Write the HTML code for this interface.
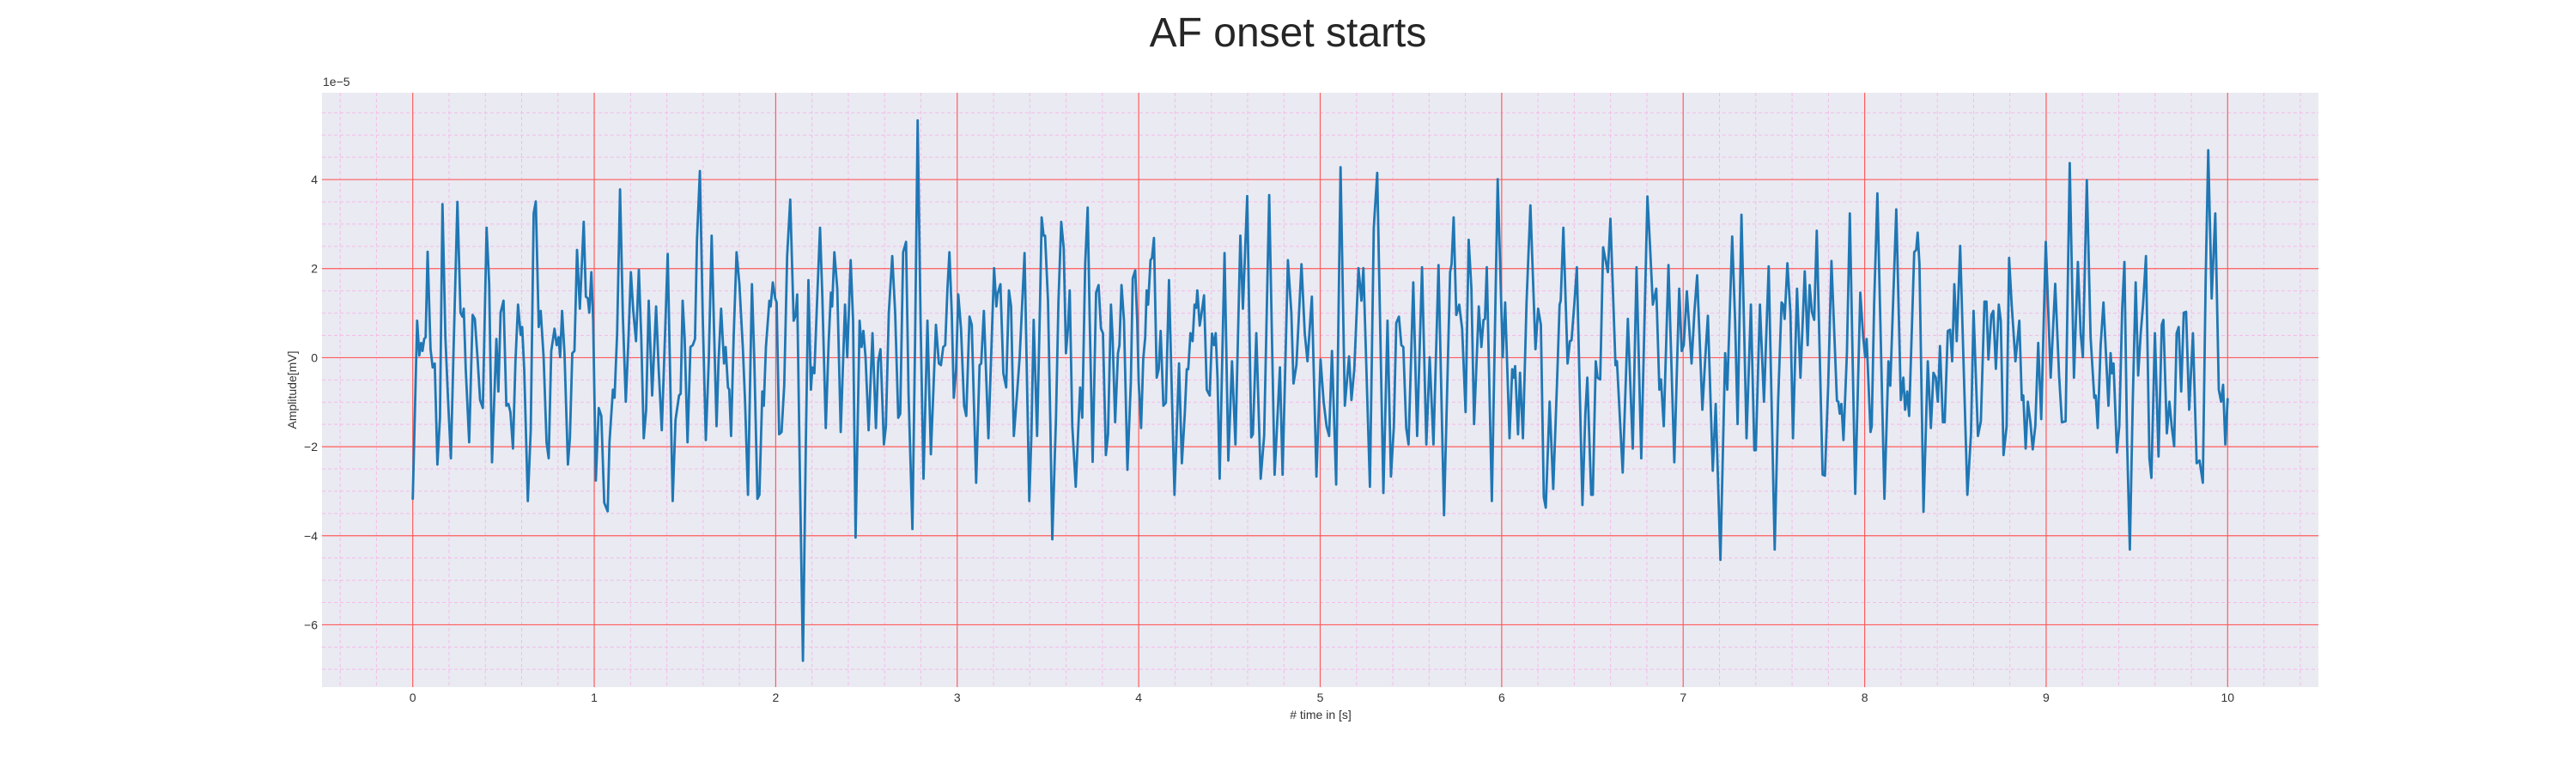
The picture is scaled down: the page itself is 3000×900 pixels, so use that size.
<!DOCTYPE html>
<html><head><meta charset="utf-8"><style>
html,body{margin:0;padding:0;background:#fff;}
svg{display:block;font-family:"Liberation Sans",Arial,sans-serif;}
</style></head><body>
<svg id="chart" width="3000" height="900" viewBox="0 0 3000 900" xmlns="http://www.w3.org/2000/svg">
<text x="1500" y="54" font-size="48" fill="#262626" text-anchor="middle">AF onset starts</text>
<rect x="375" y="108" width="2325" height="692" fill="#EAEAF2"/>
<g id="grid"></g>
<g id="ticks"></g>
<g id="series"></g>
<text x="376" y="100" font-size="14" fill="#333">1e−5</text>
<text x="1538" y="837" font-size="14" fill="#333" text-anchor="middle"># time in [s]</text>
<text x="0" y="0" font-size="14" fill="#333" text-anchor="middle" transform="translate(345,454) rotate(-90)">Amplitude[mV]</text>
</svg>
<script>
const xTicks=[0,1,2,3,4,5,6,7,8,9,10];
const yTicks=[-6,-4,-2,0,2,4];
const yTickLabels=["−6","−4","−2","0","2","4"];
const times=[0.000,0.024,0.036,0.046,0.054,0.063,0.071,0.082,0.098,0.110,0.121,0.136,0.150,0.164,0.180,0.194,0.210,0.224,0.246,0.263,0.274,0.281,0.292,0.311,0.330,0.342,0.358,0.371,0.386,0.407,0.421,0.437,0.461,0.472,0.484,0.500,0.516,0.527,0.538,0.552,0.566,0.580,0.595,0.603,0.614,0.634,0.650,0.666,0.678,0.694,0.705,0.721,0.737,0.749,0.763,0.781,0.793,0.804,0.812,0.823,0.836,0.855,0.866,0.879,0.891,0.905,0.921,0.942,0.954,0.965,0.973,0.984,0.994,1.009,1.025,1.039,1.055,1.074,1.084,1.103,1.112,1.126,1.142,1.158,1.174,1.188,1.202,1.215,1.230,1.246,1.259,1.273,1.286,1.300,1.319,1.341,1.355,1.372,1.383,1.405,
1.432,1.448,1.467,1.476,1.487,1.498,1.514,1.530,1.543,1.555,1.566,1.582,1.598,1.615,1.631,1.647,1.661,1.674,1.685,1.699,1.715,1.724,1.737,1.744,1.754,1.768,1.784,1.800,1.819,1.831,1.847,1.869,1.882,1.899,1.910,1.926,1.934,1.946,1.965,1.972,1.984,1.997,2.005,2.019,2.032,2.047,2.063,2.080,2.099,2.110,2.118,2.134,2.150,2.166,2.180,2.194,2.202,2.213,2.227,2.244,2.257,2.276,2.292,2.304,2.311,2.323,2.339,2.358,2.382,2.394,2.413,2.426,2.440,2.462,2.473,2.483,2.495,2.512,2.533,2.552,2.565,2.577,2.596,2.607,2.623,2.642,2.658,2.675,2.686,2.702,2.718,2.732,2.753,2.768,2.782,2.798,2.814,2.836,2.855,2.883,2.899,2.910,2.923,2.934,2.946,2.957,2.970,2.981,2.994,3.006,3.021,3.038,3.050,3.068,3.080,3.104,3.123,3.132,3.147,3.172,3.203,3.216,3.222,3.238,3.254,3.270,3.285,3.297,3.312,3.328,3.344,
3.371,3.397,3.409,3.421,3.440,3.456,3.465,3.476,3.484,3.500,3.513,3.524,3.544,3.558,3.573,3.587,3.599,3.610,3.620,3.634,3.653,3.677,3.689,3.705,3.719,3.730,3.746,3.765,3.779,3.792,3.803,3.819,3.831,3.847,3.856,3.870,3.886,3.894,3.905,3.919,3.938,3.957,3.967,3.981,3.992,4.000,4.013,4.025,4.036,4.044,4.052,4.065,4.073,4.084,4.099,4.110,4.121,4.136,4.150,4.167,4.181,4.197,4.222,4.238,4.254,4.265,4.273,4.285,4.297,4.308,4.317,4.323,4.336,4.345,4.360,4.375,4.391,4.404,4.415,4.424,4.434,4.446,4.473,4.494,4.514,4.533,4.560,4.574,4.598,4.620,4.629,4.648,4.672,4.691,4.719,4.749,4.778,4.793,4.822,4.841,4.853,4.869,4.897,4.915,4.930,4.954,4.979,5.002,5.019,5.035,5.049,5.065,5.088,5.112,5.136,5.159,5.172,5.188,5.211,5.227,5.238,5.274,5.295,
5.314,5.348,5.371,5.390,5.406,5.419,5.434,5.447,5.458,5.474,5.487,5.513,5.534,5.561,5.585,5.603,5.624,5.652,5.682,5.716,5.724,5.735,5.750,5.766,5.782,5.801,5.818,5.833,5.848,5.874,5.888,5.900,5.908,5.918,5.946,5.978,6.006,6.019,6.043,6.058,6.066,6.074,6.090,6.101,6.117,6.137,6.158,6.186,6.201,6.216,6.232,6.243,6.264,6.284,6.306,6.319,6.325,6.340,6.363,6.376,6.385,6.400,6.414,6.445,6.461,6.472,6.493,6.502,6.518,6.528,6.543,6.559,6.585,6.599,6.627,6.635,6.667,6.695,6.722,6.743,6.769,6.803,6.817,6.833,6.852,6.869,6.878,6.893,6.919,6.951,6.978,6.992,7.003,7.020,7.046,7.062,7.077,7.106,7.122,7.136,7.163,7.179,7.205,7.231,
7.243,7.270,7.286,7.300,7.321,7.336,7.349,7.373,7.392,7.400,7.423,7.445,7.471,7.504,7.523,7.542,7.551,7.559,7.574,7.591,7.605,7.627,7.646,7.670,7.686,7.697,7.709,7.722,7.736,7.752,7.768,7.781,7.799,7.817,7.847,7.855,7.863,7.872,7.883,7.902,7.918,7.948,7.976,7.992,8.003,8.011,8.032,8.039,8.052,8.070,8.109,8.131,8.141,8.174,8.199,8.213,8.223,8.234,8.245,8.273,8.284,8.292,8.302,8.324,8.348,8.365,8.379,8.392,8.403,8.415,8.431,8.441,8.458,8.471,8.482,8.494,8.507,8.526,8.566,8.586,8.600,8.624,8.640,8.660,8.671,8.682,8.698,8.709,8.723,8.739,8.750,8.765,8.782,8.796,8.810,8.831,8.852,8.866,8.874,8.887,8.899,8.913,8.926,8.940,8.956,8.973,8.998,9.025,9.050,9.071,9.087,9.107,9.130,9.153,9.175,
9.190,9.202,9.224,9.245,9.265,9.273,9.284,9.300,9.316,9.343,9.355,9.363,9.371,9.390,9.403,9.419,9.431,9.446,9.461,9.477,9.493,9.507,9.521,9.534,9.550,9.569,9.580,9.599,9.619,9.637,9.646,9.665,9.679,9.692,9.705,9.719,9.730,9.744,9.758,9.771,9.788,9.809,9.829,9.845,9.863,9.879,9.893,9.912,9.932,9.951,9.964,9.975,9.987,10.000];
const amps=[-3.17,0.83,0.05,0.33,0.15,0.42,0.46,2.38,0.19,-0.22,-0.13,-2.40,-1.35,3.45,0.46,-0.90,-2.26,0.01,3.50,1.01,0.92,1.10,-0.26,-1.90,0.96,0.87,-0.08,-0.95,-1.13,2.92,1.65,-2.35,0.42,-0.76,1.01,1.28,-1.08,-1.04,-1.22,-2.04,-0.08,1.19,0.51,0.69,-0.26,-3.22,-1.63,3.24,3.51,0.69,1.05,0.01,-1.90,-2.26,0.15,0.65,0.28,0.46,0.01,1.05,0.10,-2.40,-1.81,0.10,0.15,2.42,1.10,3.05,1.37,1.33,1.01,1.92,0.83,-2.76,-1.13,-1.31,-3.26,-3.45,-1.90,-0.72,-0.90,0.55,3.78,0.92,-0.99,0.37,1.92,1.05,0.37,1.97,0.46,-1.81,-1.17,1.28,-0.85,1.15,-0.26,-1.63,-0.35,2.33,
-3.22,-1.40,-0.85,-0.81,1.28,0.46,-1.90,0.24,0.28,0.42,2.65,4.19,0.92,-1.85,-0.08,2.74,0.46,-1.54,-0.08,1.10,-0.13,0.24,-0.67,-0.72,-1.76,0.46,2.37,1.65,0.19,-0.99,-3.08,1.65,-0.08,-3.17,-3.08,-0.76,-1.08,0.24,1.28,1.15,1.69,1.33,1.24,-1.72,-1.67,-0.63,2.28,3.55,0.83,0.96,1.42,-2.81,-6.81,-1.90,1.74,-0.72,-0.22,-0.35,1.19,2.92,1.37,-1.58,0.37,1.46,1.15,2.37,1.55,-1.67,1.19,0.01,2.19,0.83,-4.04,0.83,0.24,0.60,0.01,-1.63,0.55,-1.58,-0.08,0.19,-1.95,-1.54,1.01,2.28,1.01,-1.35,-1.26,2.37,2.60,-0.81,-3.85,0.37,5.33,0.83,-2.72,0.83,-2.17,0.74,-0.13,-0.17,0.24,0.28,1.55,2.37,1.01,-0.90,-0.26,1.42,0.65,-1.08,-1.31,0.92,0.74,-2.81,-0.17,-0.13,1.05,-1.81,2.01,1.15,1.42,1.65,-0.35,-0.67,1.51,1.15,-1.76,-0.90,0.01,
2.35,-3.22,-1.72,0.85,-1.76,1.19,3.15,2.74,2.74,1.28,-1.45,-4.08,-1.35,1.28,3.05,2.46,0.10,0.65,1.51,-1.54,-2.90,-0.67,-1.35,2.10,3.37,0.83,-2.34,1.46,1.63,0.65,0.55,-2.19,-1.72,1.19,0.46,-1.45,0.10,0.28,1.63,0.83,-2.52,-0.54,1.78,1.96,0.83,-0.54,-1.58,-0.04,0.46,1.51,1.19,2.19,2.24,2.69,-0.45,-0.26,0.60,-1.08,-1.01,1.74,-0.54,-3.08,-0.13,-2.37,-1.26,-0.26,-0.26,0.55,0.37,1.19,1.12,1.51,0.72,0.96,1.40,-0.72,-0.85,0.54,0.28,0.55,-0.45,-2.72,2.35,-2.31,-0.08,-1.95,2.74,1.10,3.63,-1.79,-1.72,0.55,-2.72,-1.76,3.65,-2.63,-0.22,-2.63,2.19,1.01,-0.58,-0.17,2.10,0.55,-0.08,1.37,-2.67,-0.04,-0.99,-1.54,-1.76,0.15,-2.85,4.28,-1.08,0.03,-0.95,-0.26,2.01,1.28,2.01,-2.90,2.92,
4.15,-3.04,0.83,-2.67,-1.54,0.78,0.92,0.28,0.24,-1.58,-1.95,1.69,-1.76,2.03,-1.95,0.01,-1.95,2.08,-3.54,1.92,2.10,3.15,0.96,1.19,0.65,-1.22,2.65,1.55,-1.49,1.15,0.24,0.85,0.87,2.03,-3.22,4.01,0.01,1.24,-1.81,-0.26,-0.45,-0.19,-1.72,-0.34,-1.81,1.24,3.42,0.19,1.10,0.74,-3.13,-3.37,-0.99,-2.95,-0.45,1.19,1.28,2.92,-0.13,0.37,0.39,1.19,2.03,-3.31,-1.26,-0.45,-3.08,-3.08,-0.08,-0.45,-0.49,2.48,1.92,3.12,-0.17,-0.08,-2.58,0.87,-2.04,2.03,-2.26,3.62,2.55,1.19,1.55,-0.72,-0.49,-1.54,2.08,-2.35,1.55,0.15,0.28,1.49,-0.13,1.03,1.85,-1.17,0.01,0.94,-2.54,-1.04,-4.54,0.10,
-0.72,2.72,0.83,-1.49,3.21,0.65,-1.81,1.19,-2.08,-2.08,1.19,-0.99,2.05,-4.31,-0.99,1.24,1.19,0.87,2.12,1.01,-1.81,1.55,-0.45,1.94,0.28,1.63,1.03,0.85,2.85,0.10,-2.63,-2.65,-0.63,2.17,-0.97,-0.99,-1.26,-1.04,-1.85,0.10,3.24,-3.06,1.46,0.46,0.01,0.42,-1.67,-1.54,1.19,3.69,-3.17,-0.08,-0.63,3.33,-0.95,-0.45,-1.17,-0.76,-1.31,2.37,2.42,2.81,2.10,-3.46,-0.08,-1.58,-0.34,-0.45,-0.99,0.26,-1.45,-1.45,0.60,0.63,-0.08,1.65,0.37,2.51,-3.08,-1.72,1.05,-1.76,-1.43,1.26,1.26,-0.04,0.96,1.05,-0.25,1.19,0.83,-2.19,-1.54,2.24,1.19,-0.08,0.83,-0.95,-0.85,-2.04,-0.99,-1.45,-2.06,-1.54,0.33,-1.38,2.60,-0.45,1.66,-0.40,-1.45,-1.43,4.37,-0.45,2.15,
0.55,0.01,3.99,0.46,-0.90,-0.85,-1.58,0.28,1.24,-1.08,0.10,-0.35,-0.13,-2.13,-1.54,1.10,2.15,-1.90,-4.31,-0.99,1.69,-0.40,0.55,1.19,2.28,-2.26,-2.70,0.55,-2.22,0.74,0.85,-1.70,-0.99,-1.55,-1.99,0.55,0.69,-0.76,1.01,1.03,-1.17,0.55,-2.37,-2.31,-2.81,1.74,4.66,1.33,3.24,-0.72,-0.99,-0.61,-1.95,-0.93];

const NS='http://www.w3.org/2000/svg';
const X0=375,X1=2700,Y0=108,Y1=800,XMIN=-0.5,XMAX=10.5,YMIN=-7.4,YMAX=5.95;
function sx(t){return X0+(t-XMIN)/(XMAX-XMIN)*(X1-X0);}
function sy(v){return Y1-(v-YMIN)/(YMAX-YMIN)*(Y1-Y0);}
function mk(tag,attrs,parent){const e=document.createElementNS(NS,tag);for(const k in attrs)e.setAttribute(k,attrs[k]);parent.appendChild(e);return e;}
const grid=document.getElementById('grid');
for(let i=-2;i<=52;i++){const t=i*0.2;if(t<XMIN||t>XMAX||Math.abs(t-Math.round(t))<1e-6)continue;
 const l=mk('line',{x1:sx(t),x2:sx(t),y1:Y0,y2:Y1,stroke:'#f4bce9','stroke-width':1,'stroke-dasharray':'4,3'},grid);
 
 }
for(let i=-15;i<=12;i++){const v=i*0.5;if(v<YMIN||v>YMAX||Math.abs(v/2-Math.round(v/2))<1e-6)continue;
 const l=mk('line',{x1:X0,x2:X1,y1:sy(v),y2:sy(v),stroke:'#f4bce9','stroke-width':1,'stroke-dasharray':'4,3'},grid);
 
 }
const ticks=document.getElementById('ticks');
xTicks.forEach(t=>{const l=mk('line',{x1:sx(t),x2:sx(t),y1:Y0,y2:Y1,stroke:'#ff5c5c','stroke-width':1.2},grid);
 
 
 const tx=mk('text',{x:sx(t),y:817,'font-size':14,fill:'#333','text-anchor':'middle'},ticks);tx.textContent=String(t);
 
 });
yTicks.forEach((v,i)=>{const l=mk('line',{x1:X0,x2:X1,y1:sy(v),y2:sy(v),stroke:'#ff5c5c','stroke-width':1.2},grid);
 
 
 const tx=mk('text',{x:370,y:sy(v)+5,'font-size':14,fill:'#333','text-anchor':'end'},ticks);tx.textContent=yTickLabels[i];
 
 });
const series=document.getElementById('series');
let d='';for(let i=0;i<times.length&&i<amps.length;i++){d+=(i?'L':'M')+sx(times[i]).toFixed(1)+','+sy(amps[i]).toFixed(1);}
const p=mk('path',{d:d,fill:'none',stroke:'#1f77b4','stroke-width':2.8,'stroke-linejoin':'round','stroke-linecap':'round'},series);


</script>
</body></html>
